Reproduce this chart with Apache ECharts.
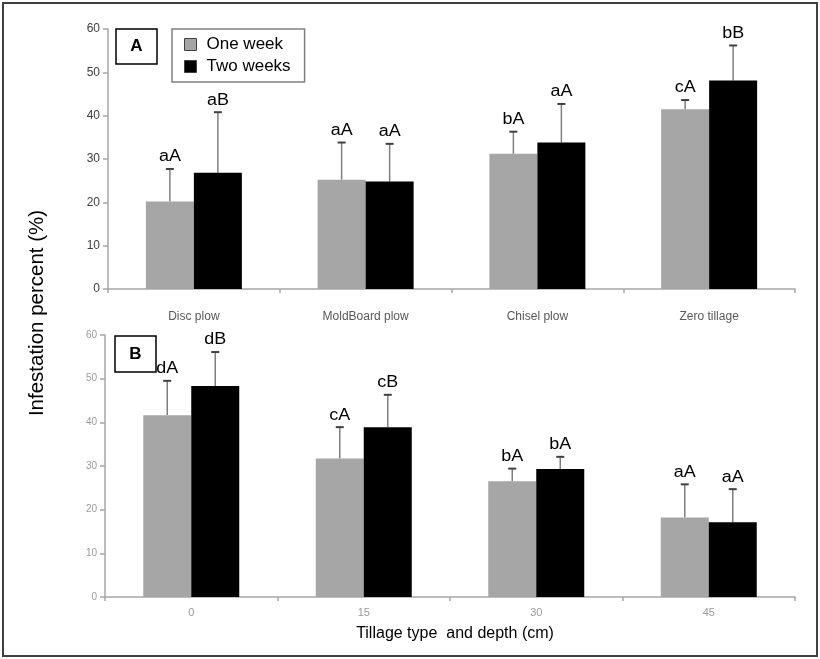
<!DOCTYPE html>
<html><head><meta charset="utf-8">
<script src="https://cdn.jsdelivr.net/npm/echarts@6/dist/echarts.min.js"></script>
<style>html,body{margin:0;padding:0;background:#fff}#c{width:820px;height:659px}</style>
</head><body><div id="c"></div>
<script>
// ---- Data ----
const seriesNames = ['One week', 'Two weeks'];
const tillageCats = ['Disc plow', 'MoldBoard plow', 'Chisel plow', 'Zero tillage'];
const tillageOne = [20.2, 25.2, 31.2, 41.5];
const tillageOneErr = [27.7, 33.8, 36.3, 43.6];
const tillageOneLbl = ['aA', 'aA', 'bA', 'cA'];
const tillageTwo = [26.8, 24.8, 33.8, 48.1];
const tillageTwoErr = [40.8, 33.5, 42.7, 56.2];
const tillageTwoLbl = ['aB', 'aA', 'aA', 'bB'];

const depthCats = ['0', '15', '30', '45'];
const depthOne = [41.6, 31.7, 26.5, 18.2];
const depthOneErr = [49.5, 38.9, 29.4, 25.8];
const depthOneLbl = ['dA', 'cA', 'bA', 'aA'];
const depthTwo = [48.3, 38.9, 29.3, 17.1];
const depthTwoErr = [56.1, 46.3, 32.1, 24.7];
const depthTwoLbl = ['dB', 'cB', 'bA', 'aA'];

const yTicks = {min: 0, max: 60, interval: 10};

// ---- Style ----
const GRAY = '#a6a6a6', BLACK = '#000000';
const BAR_W = 48;
const font = 'Arial, "Liberation Sans", sans-serif';

function errSeries(gridIdx, vals, tops, labels, offset) {
  return {
    type: 'custom', xAxisIndex: gridIdx, yAxisIndex: gridIdx, z: 1,
    data: vals.map((v, i) => [i, v, tops[i], labels[i]]),
    renderItem: function (params, api) {
      const i = api.value(0);
      const base = api.coord([i, api.value(1)]);
      const top = api.coord([i, api.value(2)]);
      const x = base[0] + offset;
      const cw = 4;
      return {
        type: 'group',
        children: [
          {type: 'line', shape: {x1: x, y1: base[1], x2: x, y2: top[1]}, style: {stroke: '#7f7f7f', lineWidth: 1.5}},
          {type: 'line', shape: {x1: x - cw, y1: top[1], x2: x + cw, y2: top[1]}, style: {stroke: '#404040', lineWidth: 2}},
          {type: 'text', x: x, y: top[1] - 4, scaleX: 1.12, style: {text: labels[i], x: 0, y: 0, textAlign: 'center', textVerticalAlign: 'bottom', fill: '#000', fontSize: 16, fontFamily: font}}
        ]
      };
    }
  };
}

function barSeries(name, gridIdx, vals, color) {
  return {name: name, type: 'bar', xAxisIndex: gridIdx, yAxisIndex: gridIdx, data: vals,
    barWidth: BAR_W, barGap: '0%', itemStyle: {color: color}, z: 2};
}

function yAxis(gridIdx, labelColor, labelSize) {
  return {type: 'value', gridIndex: gridIdx, min: yTicks.min, max: yTicks.max, interval: yTicks.interval,
    splitLine: {show: false},
    axisLine: {show: true, lineStyle: {color: GRAY, width: 1.5}},
    axisTick: {show: true, inside: false, length: 5, lineStyle: {color: GRAY, width: 1.5}},
    axisLabel: {color: labelColor, fontSize: labelSize, fontFamily: font, margin: 8}};
}
function xAxis(gridIdx, cats, labelColor, labelSize, margin) {
  return {type: 'category', gridIndex: gridIdx, data: cats,
    axisLine: {show: true, lineStyle: {color: GRAY, width: 1.5}},
    axisTick: {show: true, length: 4, lineStyle: {color: GRAY, width: 1.5}},
    axisLabel: {color: labelColor, fontSize: labelSize, fontFamily: font, margin: margin}};
}

const chart = echarts.init(document.getElementById('c'), null, {renderer: 'canvas'});
chart.setOption({
  animation: false,
  backgroundColor: '#fff',
  grid: [
    {left: 108, right: 25, top: 29, height: 260},
    {left: 105, right: 25, top: 335, height: 262}
  ],
  xAxis: [xAxis(0, tillageCats, '#595959', 12, 22), xAxis(1, depthCats, '#9a9a9a', 11, 10)],
  yAxis: [yAxis(0, '#404040', 12), yAxis(1, '#9a9a9a', 10)],
  legend: {
    data: seriesNames, orient: 'vertical', left: 172, top: 29,
    itemWidth: 12, itemHeight: 12, itemGap: 5,
    borderColor: '#808080', borderWidth: 1.5, padding: [7, 14, 7, 12],
    textStyle: {fontSize: 17, fontFamily: font, color: '#000', padding: [0, 0, 0, 5]},
    icon: 'rect',
    itemStyle: {borderColor: '#404040', borderWidth: 1}
  },
  series: [
    barSeries(seriesNames[0], 0, tillageOne, GRAY),
    barSeries(seriesNames[1], 0, tillageTwo, BLACK),
    errSeries(0, tillageOne, tillageOneErr, tillageOneLbl, -BAR_W / 2),
    errSeries(0, tillageTwo, tillageTwoErr, tillageTwoLbl, BAR_W / 2),
    barSeries(seriesNames[0], 1, depthOne, GRAY),
    barSeries(seriesNames[1], 1, depthTwo, BLACK),
    errSeries(1, depthOne, depthOneErr, depthOneLbl, -BAR_W / 2),
    errSeries(1, depthTwo, depthTwoErr, depthTwoLbl, BAR_W / 2)
  ],
  graphic: [
    {type: 'rect', shape: {x: 3, y: 3, width: 814, height: 653}, style: {fill: 'none', stroke: '#404040', lineWidth: 2}, silent: true},
    {type: 'rect', shape: {x: 116, y: 29, width: 41, height: 35}, style: {fill: '#fff', stroke: '#000', lineWidth: 1.5}},
    {type: 'text', x: 136.5, y: 46.5, style: {text: 'A', textAlign: 'center', textVerticalAlign: 'middle', fontSize: 17, fontWeight: 'bold', fontFamily: font, fill: '#000'}},
    {type: 'rect', shape: {x: 115, y: 336, width: 41, height: 36}, style: {fill: '#fff', stroke: '#000', lineWidth: 1.5}},
    {type: 'text', x: 135.5, y: 354, style: {text: 'B', textAlign: 'center', textVerticalAlign: 'middle', fontSize: 17, fontWeight: 'bold', fontFamily: font, fill: '#000'}},
    {type: 'text', x: 37, y: 313, rotation: Math.PI / 2, style: {text: 'Infestation percent (%)', textAlign: 'center', textVerticalAlign: 'middle', fontSize: 20.5, fontFamily: font, fill: '#000'}},
    {type: 'text', x: 455, y: 634, style: {text: 'Tillage type  and depth (cm)', textAlign: 'center', textVerticalAlign: 'middle', fontSize: 16, fontFamily: font, fill: '#000'}}
  ]
});
</script>
</body></html>
